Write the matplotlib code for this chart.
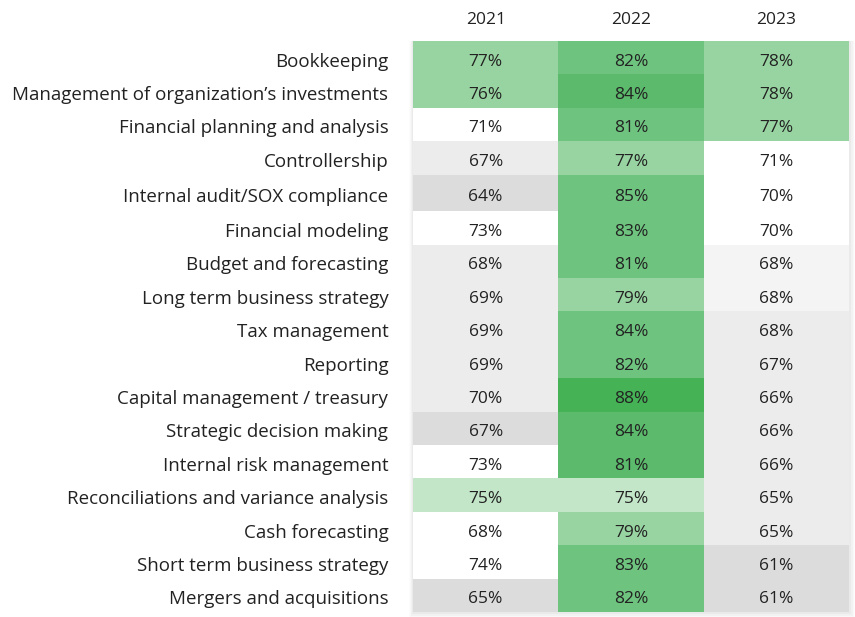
import matplotlib
matplotlib.use("Agg")
import matplotlib.pyplot as plt
import numpy as np
from matplotlib.colors import ListedColormap, BoundaryNorm

categories = [
    "Bookkeeping",
    "Management of organization\u2019s investments",
    "Financial planning and analysis",
    "Controllership",
    "Internal audit/SOX compliance",
    "Financial modeling",
    "Budget and forecasting",
    "Long term business strategy",
    "Tax management",
    "Reporting",
    "Capital management / treasury",
    "Strategic decision making",
    "Internal risk management",
    "Reconciliations and variance analysis",
    "Cash forecasting",
    "Short term business strategy",
    "Mergers and acquisitions",
]
years = ["2021", "2022", "2023"]
v2021 = [77, 76, 71, 67, 64, 73, 68, 69, 69, 69, 70, 67, 73, 75, 68, 74, 65]
v2022 = [82, 84, 81, 77, 85, 83, 81, 79, 84, 82, 88, 84, 81, 75, 79, 83, 82]
v2023 = [78, 78, 77, 71, 70, 70, 68, 68, 68, 67, 66, 66, 66, 65, 65, 61, 61]

# shading class of each cell as shown in the chart
shade_names = ["grey2", "grey1", "grey0", "white", "vlgreen", "lgreen", "green1", "green2", "green3"]
shade_colors = ["#dcdcdc", "#ececec", "#f4f4f4", "#ffffff", "#c3e6c8", "#98d4a1", "#6ec47f", "#5bba6b", "#45b256"]
s2021 = ["lgreen", "lgreen", "white", "grey1", "grey2", "white", "grey1", "grey1", "grey1", "grey1",
         "grey1", "grey2", "white", "vlgreen", "white", "white", "grey2"]
s2022 = ["green1", "green2", "green1", "lgreen", "green1", "green1", "green1", "lgreen", "green1", "green1",
         "green3", "green2", "green2", "vlgreen", "lgreen", "green1", "green1"]
s2023 = ["lgreen", "lgreen", "lgreen", "white", "white", "white", "grey0", "grey0", "grey1", "grey1",
         "grey1", "grey1", "grey1", "grey1", "grey1", "grey2", "grey2"]

values = np.array([v2021, v2022, v2023]).T
shades = np.array([[shade_names.index(s) for s in col] for col in (s2021, s2022, s2023)]).T

FONT = ["Open Sans", "DejaVu Sans"]
plt.rcParams["font.family"] = FONT

fig = plt.figure(figsize=(8.55, 6.17), dpi=100)
left, right = 413 / 855, 849 / 855
top, bottom = 1 - 41 / 617, 1 - 612 / 617

# soft shadow behind the table
for pad, a in [(9, 0.010), (6, 0.016), (4, 0.022), (2, 0.03)]:
    px = pad / 855
    py = pad / 617
    fig.patches.append(plt.Rectangle((left - px * 0.5, bottom - py * 1.1), (right - left) + px * 1.4,
                                     (top - bottom) + py * 1.1, transform=fig.transFigure,
                                     facecolor="black", alpha=a, edgecolor="none", zorder=-5))

ax = fig.add_axes([left, bottom, right - left, top - bottom])
ax.set_zorder(5)

nrows, ncols = values.shape
# row heights (layout): the 5th row is drawn a bit taller in the original
row_h = np.ones(nrows)
row_h[4] = 1.1
y_edges = np.concatenate([[0], np.cumsum(row_h)])
y_mid = (y_edges[:-1] + y_edges[1:]) / 2

cmap = ListedColormap(shade_colors)
norm = BoundaryNorm(np.arange(len(shade_colors) + 1) - 0.5, cmap.N)
ax.pcolormesh(np.arange(ncols + 1), y_edges, shades, cmap=cmap, norm=norm)
ax.set_xlim(0, ncols)
ax.set_ylim(y_edges[-1], 0)
ax.set_axis_off()

dy = 0.12
for r in range(nrows):
    for c in range(ncols):
        ax.text(c + 0.5, y_mid[r] + dy, f"{values[r, c]}%", ha="center", va="center",
                fontsize=12.5, color="#222222")
    ax.text(-0.17, y_mid[r] + dy, categories[r], ha="right", va="center", fontsize=13.5,
            color="#222222")

for c, y in enumerate(years):
    ax.text(c + 0.5, -0.62, y, ha="center", va="center", fontsize=12.5, color="#222222")

fig.savefig("out.png", dpi=100, facecolor="white")
